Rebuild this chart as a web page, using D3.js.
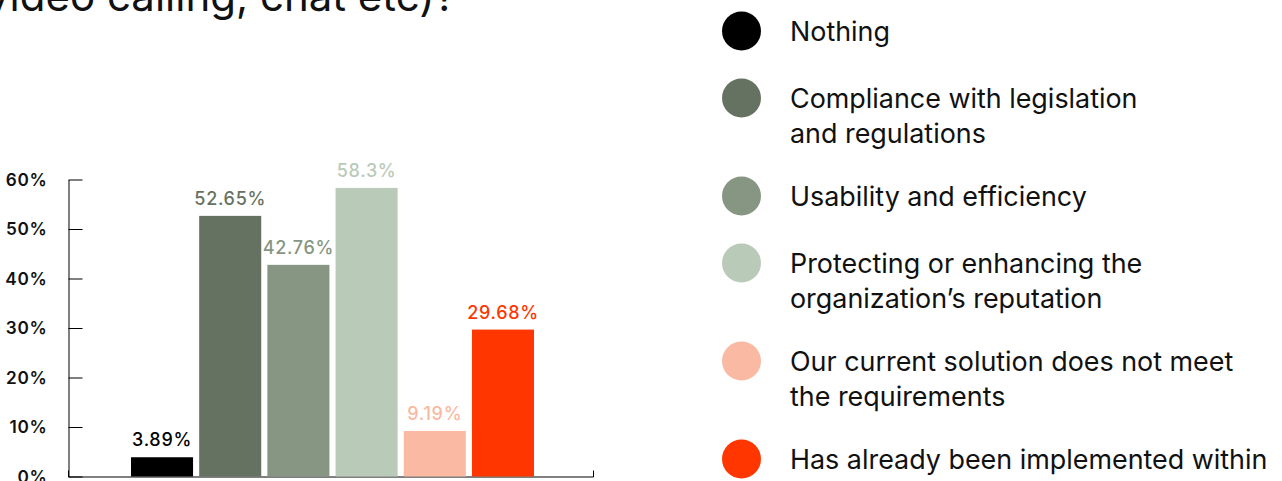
<!DOCTYPE html>
<html>
<head>
<meta charset="utf-8">
<script src="https://cdn.jsdelivr.net/npm/d3@7"></script>
<style>
  html, body { margin: 0; padding: 0; background: #fff; }
  svg { display: block; font-family: Inter, "Noto Sans", sans-serif; }
</style>
</head>
<body>
<svg id="chart" width="1282" height="481"></svg>
<script>
// ---- data ----
const categories = [
  "Nothing",
  "Compliance with legislation and regulations",
  "Usability and efficiency",
  "Protecting or enhancing the organization’s reputation",
  "Our current solution does not meet the requirements",
  "Has already been implemented within"
];
const values = [3.89, 52.65, 42.76, 58.3, 9.19, 29.68];
const valueLabels = ["3.89%", "52.65%", "42.76%", "58.3%", "9.19%", "29.68%"];
const colors = ["#000000", "#667261", "#879583", "#B9CAB9", "#FAB9A2", "#FF3600"];
const legendLines = [
  ["Nothing"],
  ["Compliance with legislation", "and regulations"],
  ["Usability and efficiency"],
  ["Protecting or enhancing the", "organization’s reputation"],
  ["Our current solution does not meet", "the requirements"],
  ["Has already been implemented within"]
];
const yTicks = [0, 10, 20, 30, 40, 50, 60];
const titleLine = "video calling, chat etc)?";

// ---- layout ----
const svg = d3.select("#chart");

const y = d3.scaleLinear().domain([0, 60]).range([476.5, 179.5]);
const xAxisScale = d3.scaleLinear().domain([0, 1]).range([68, 593]);
const x = d3.scaleBand().domain(categories).range([131, 534]).paddingInner(0.09).paddingOuter(0);

// title (partially cut off at the top, as in the reference)
svg.append("text")
  .attr("x", 456).attr("y", 11)
  .attr("text-anchor", "end")
  .attr("font-size", 42)
  .attr("fill", "#111")
  .text(titleLine);

// y axis
const yAxis = d3.axisLeft(y)
  .tickValues(yTicks)
  .tickFormat(d => d + "%")
  .tickSize(-14)
  .tickSizeOuter(0)
  .tickPadding(21);
const gy = svg.append("g").attr("transform", "translate(68.5,0)").call(yAxis);
gy.select(".domain").attr("stroke", "#000");
gy.selectAll(".tick line").attr("stroke", "#000");
gy.selectAll(".tick text")
  .attr("fill", "#111")
  .attr("font-size", 17.2)
  .attr("font-weight", 600)
  .attr("font-family", "Inter, sans-serif")
  .attr("letter-spacing", 0.7);

// x axis (baseline only, with outer tick at the end)
const xAxis = d3.axisTop(xAxisScale).tickValues([]).tickSizeOuter(6);
const gx = svg.append("g").attr("transform", "translate(0,476.5)").call(xAxis);
gx.select(".domain").attr("stroke", "#000");

// bars
svg.append("g").selectAll("rect")
  .data(values)
  .join("rect")
  .attr("x", (d, i) => x(categories[i]))
  .attr("width", x.bandwidth())
  .attr("y", d => y(d))
  .attr("height", d => y(0) - y(d))
  .attr("fill", (d, i) => colors[i]);

// value labels
svg.append("g").selectAll("text")
  .data(values)
  .join("text")
  .attr("x", (d, i) => x(categories[i]) + x.bandwidth() / 2)
  .attr("y", d => y(d) - 11)
  .attr("text-anchor", "middle")
  .attr("font-size", 18)
  .attr("font-weight", 500)
  .attr("letter-spacing", 0.7)
  .attr("fill", (d, i) => colors[i])
  .text((d, i) => valueLabels[i]);

// legend
let cy = 31;
const lg = svg.append("g");
legendLines.forEach((lines, i) => {
  const g = lg.append("g");
  g.append("ellipse")
    .attr("cx", 741.5).attr("cy", cy)
    .attr("rx", 19.5).attr("ry", 19.5)
    .attr("fill", colors[i]);
  const t = g.append("text")
    .attr("x", 790).attr("y", cy + 10)
    .attr("font-size", 26.9)
    .attr("fill", "#111");
  lines.forEach((ln, j) => {
    t.append("tspan").attr("x", 790).attr("dy", j === 0 ? 0 : 34.5).text(ln);
  });
  cy += lines.length === 1 ? 67 : 98;
});
</script>
</body>
</html>
